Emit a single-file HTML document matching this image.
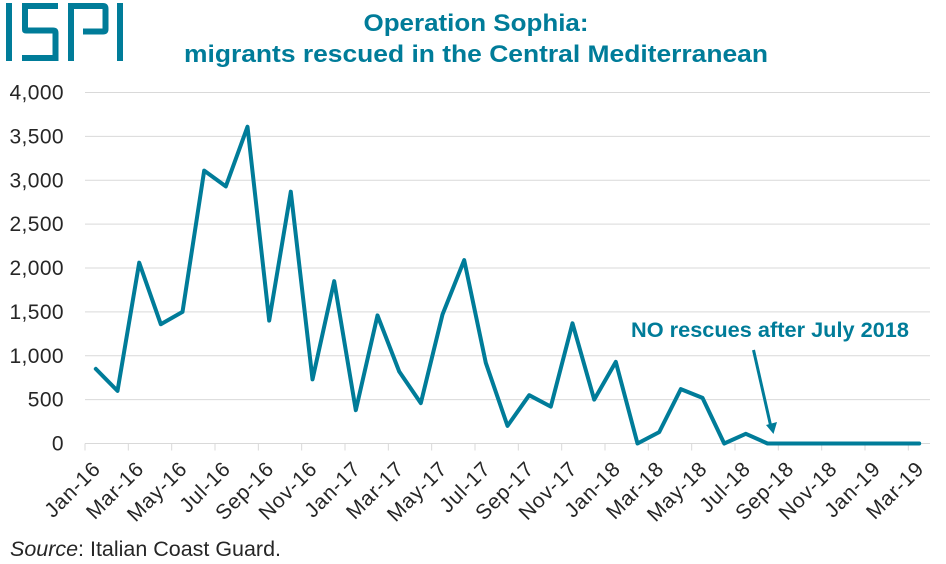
<!DOCTYPE html>
<html lang="en">
<head>
<meta charset="utf-8">
<title>Operation Sophia: migrants rescued in the Central Mediterranean</title>
<style>
html,body{margin:0;padding:0;background:#fff;}
svg{display:block;font-family:"Liberation Sans",sans-serif;}
.ttl{font-size:24px;font-weight:bold;fill:#007c99;text-anchor:middle;}
.yl{font-size:21px;fill:#262626;text-anchor:end;letter-spacing:.4px;}
.xl{font-size:21px;fill:#262626;text-anchor:end;letter-spacing:.8px;}
</style>
</head>
<body>
<svg id="chart" width="946" height="564" viewBox="0 0 946 564" xmlns="http://www.w3.org/2000/svg">
  <rect width="946" height="564" fill="#fff"/>
  <g role="img" aria-label="ISPI" fill="#007c99">
    <title>ISPI</title>
    <rect x="6" y="3" width="6" height="58"/>
    <path d="M22 3H58V9H28V27.500H53Q58.500 27.500 58.500 33V61H22V55H52.500V33.500H26Q22 33.500 22 29.500Z"/>
    <path d="M68 3H103Q108.500 3 108.500 9V29Q108.500 34.500 103 34.500H83V28.500H102.500V9H74V61H68Z"/>
    <rect x="117" y="3" width="6" height="58"/>
  </g>
  <text class="ttl" x="476" y="31" textLength="225" lengthAdjust="spacingAndGlyphs">Operation Sophia:</text>
  <text class="ttl" x="476" y="62" textLength="584" lengthAdjust="spacingAndGlyphs">migrants rescued in the Central Mediterranean</text>
  <g id="grid-group"></g>
  <g id="y-axis-group"></g>
  <g id="x-axis-group"></g>
  <polyline id="series-line" fill="none" stroke="#007c99" stroke-width="4" stroke-linejoin="round" stroke-linecap="round"></polyline>
  <text x="631" y="337" font-size="21" font-weight="bold" fill="#007c99" textLength="278" lengthAdjust="spacingAndGlyphs">NO rescues after July 2018</text>
  <g>
    <line x1="753.5" y1="350" x2="770.5" y2="425" stroke="#007c99" stroke-width="3"/>
    <polygon points="773.500,434 766,425 777,422" fill="#007c99"/>
  </g>
  <text x="10" y="556" font-size="21" fill="#262626" textLength="271" lengthAdjust="spacingAndGlyphs"><tspan font-style="italic">Source</tspan>: Italian Coast Guard.</text>
</svg>
<script>
const categories = ['Jan-16','Feb-16','Mar-16','Apr-16','May-16','Jun-16','Jul-16','Aug-16','Sep-16','Oct-16','Nov-16','Dec-16','Jan-17','Feb-17','Mar-17','Apr-17','May-17','Jun-17','Jul-17','Aug-17','Sep-17','Oct-17','Nov-17','Dec-17','Jan-18','Feb-18','Mar-18','Apr-18','May-18','Jun-18','Jul-18','Aug-18','Sep-18','Oct-18','Nov-18','Dec-18','Jan-19','Feb-19','Mar-19'];
const rescued = [850,600,2060,1360,1500,3110,2930,3610,1400,2870,730,1850,380,1460,820,460,1470,2090,920,200,550,420,1370,500,930,0,130,620,520,0,110,0,0,0,0,0,0,0,0];
const yTicks = [0,500,1000,1500,2000,2500,3000,3500,4000];

const NS = 'http://www.w3.org/2000/svg';
const plotLeft = 85, plotRight = 930, plotTop = 92.5, plotBottom = 443.5;
const yMax = 4000;
const band = (plotRight - plotLeft) / categories.length;
function xEdge(i){ return plotLeft + band * i; }
function xPos(i){ return plotLeft + band * (i + 0.5); }
function yPos(v){ return plotBottom - (v / yMax) * (plotBottom - plotTop); }
function make(tag, attrs, parent){
  const el = document.createElementNS(NS, tag);
  for (const k in attrs) el.setAttribute(k, attrs[k]);
  parent.appendChild(el);
  return el;
}
const gridGroup = document.getElementById('grid-group');
const yAxisGroup = document.getElementById('y-axis-group');
const xAxisGroup = document.getElementById('x-axis-group');

yTicks.forEach(function(t){
  const gl = make('line', {x1:plotLeft, x2:plotRight, y1:yPos(t), y2:yPos(t), stroke:'#d9d9d9', 'stroke-width':1}, gridGroup);
  
  
  const lb = make('text', {class:'yl', x:64, y:yPos(t) + 7}, yAxisGroup);
  
  
  lb.textContent = t.toLocaleString('en-US');
});

categories.forEach(function(c, i){
  if (i % 2 !== 0) return;
  const tk = make('line', {x1:xEdge(i), x2:xEdge(i), y1:plotBottom, y2:plotBottom + 7, stroke:'#d9d9d9', 'stroke-width':1}, xAxisGroup);
  
  
  const ax = xPos(i) + 6, ay = 470;
  const lb = make('text', {class:'xl', x:ax, y:ay, transform:'rotate(-45 ' + ax + ' ' + ay + ')'}, xAxisGroup);
  
  
  lb.textContent = c;
});

document.getElementById('series-line').setAttribute('points', rescued.map(function(v, i){
  return xPos(i).toFixed(1) + ',' + yPos(v).toFixed(1);
}).join(' '));
</script>
</body>
</html>
